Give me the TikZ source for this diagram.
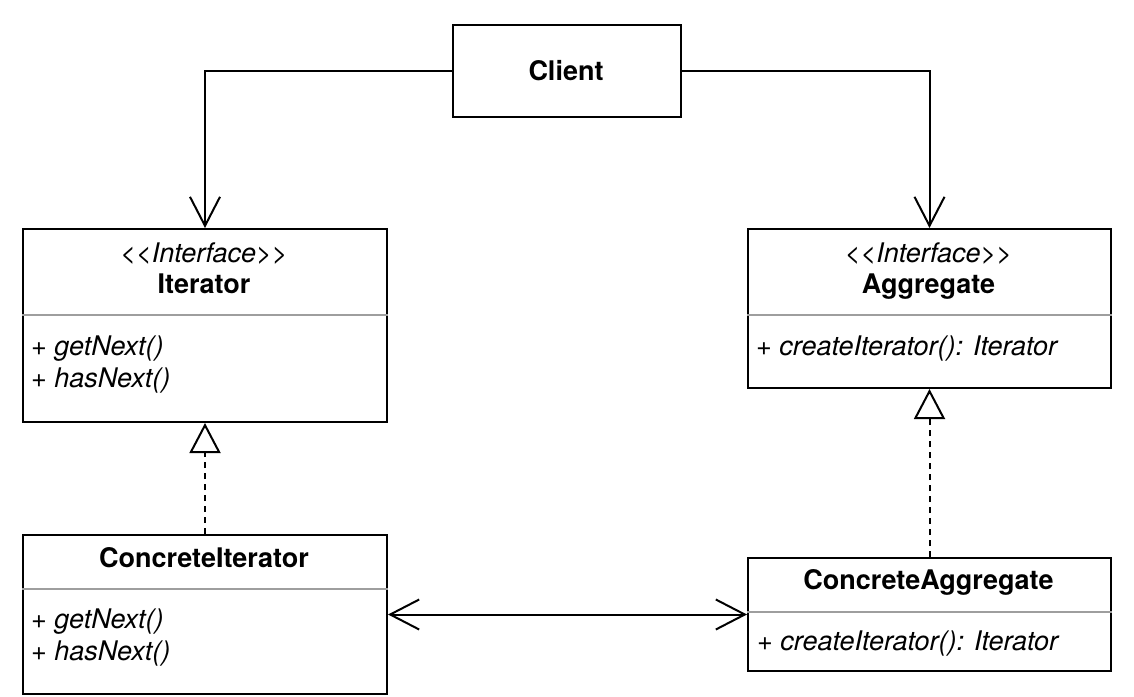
\documentclass[tikz,border=0pt]{standalone}
\usepackage{fontspec}
\setmainfont{TeX Gyre Heros}
\usetikzlibrary{arrows.meta}
\newcommand{\stlt}{<\kern0pt<}
\newcommand{\stgt}{>\kern0pt>}
\begin{document}
\begin{tikzpicture}[x=1pt,y=-1pt,
  umlbox/.style={draw=black, line width=2pt, fill=white, minimum width=#1, anchor=north west, inner sep=0pt},
  sepline/.style={draw=black!38, line width=2pt},
  txt/.style={inner sep=0pt, font=\fontsize{27}{32}\selectfont},
  ttl/.style={txt, font=\fontsize{27}{32}\selectfont\bfseries, anchor=base},
  stereo/.style={txt, font=\fontsize{27}{32}\selectfont\itshape, anchor=base},
  meth/.style={txt, font=\fontsize{27}{32}\selectfont\itshape, anchor=base west},
  dep/.style={draw=black, line width=2pt, -{Straight Barb[length=29pt,width=30pt]}},
  real/.style={draw=black, line width=2pt, dash pattern=on 6pt off 5pt, -{Triangle[open,length=30pt,width=31pt,fill=white]}},
  assoc/.style={draw=black, line width=2pt, {Straight Barb[length=29pt,width=30pt]}-{Straight Barb[length=29pt,width=30pt]}}
]
\useasboundingbox (0,0) rectangle (1134,696);
\fill[white] (0,0) rectangle (1134,696);

% Client
\node[umlbox=228pt, minimum height=92pt] (client) at (452,24) {};
\node[ttl] (clientT) at (566,80) {Client};

% Iterator
\node[umlbox=364pt, minimum height=193pt] (iter) at (22,228) {};
\draw[sepline] (iter.west |- 0,315) coordinate (iterSL) -- (iter.east |- 0,315) coordinate (iterSR);
\node[stereo] (iterS) at (204,262) {\stlt Interface\stgt};
\node[ttl] (iterT) at (204,293) {Iterator};
\node[meth] (iterM1) at (31,355) {+ getNext()};
\node[meth] (iterM2) at (31,387) {+ hasNext()};

% Aggregate
\node[umlbox=363pt, minimum height=159pt] (agg) at (747,228) {};
\draw[sepline] (agg.west |- 0,315) coordinate (aggSL) -- (agg.east |- 0,315) coordinate (aggSR);
\node[stereo] (aggS) at (928.5,262) {\stlt Interface\stgt};
\node[ttl] (aggT) at (928.5,293) {Aggregate};
\node[meth] (aggM1) at (756,355) {+ createIterator(): Iterator};

% ConcreteIterator
\node[umlbox=364pt, minimum height=159pt] (citer) at (22,534) {};
\draw[sepline] (citer.west |- 0,589) coordinate (citerSL) -- (citer.east |- 0,589) coordinate (citerSR);
\node[ttl] (citerT) at (204,567) {ConcreteIterator};
\node[meth] (citerM1) at (31,628) {+ getNext()};
\node[meth] (citerM2) at (31,660) {+ hasNext()};

% ConcreteAggregate
\node[umlbox=363pt, minimum height=113pt] (cagg) at (747,557) {};
\draw[sepline] (cagg.west |- 0,612) coordinate (caggSL) -- (cagg.east |- 0,612) coordinate (caggSR);
\node[ttl] (caggT) at (928.5,589) {ConcreteAggregate};
\node[meth] (caggM1) at (757,650) {+ createIterator(): Iterator};

% connectors
\draw[dep] (client.west) -| (iter.north);
\draw[dep] (client.east) -| (agg.north);
\draw[real] (citer.north) -- (iter.south);
\draw[real] (cagg.north) -- (agg.south);
\draw[assoc] (cagg.west -| citer.east) -- (cagg.west);
\end{tikzpicture}
\end{document}
